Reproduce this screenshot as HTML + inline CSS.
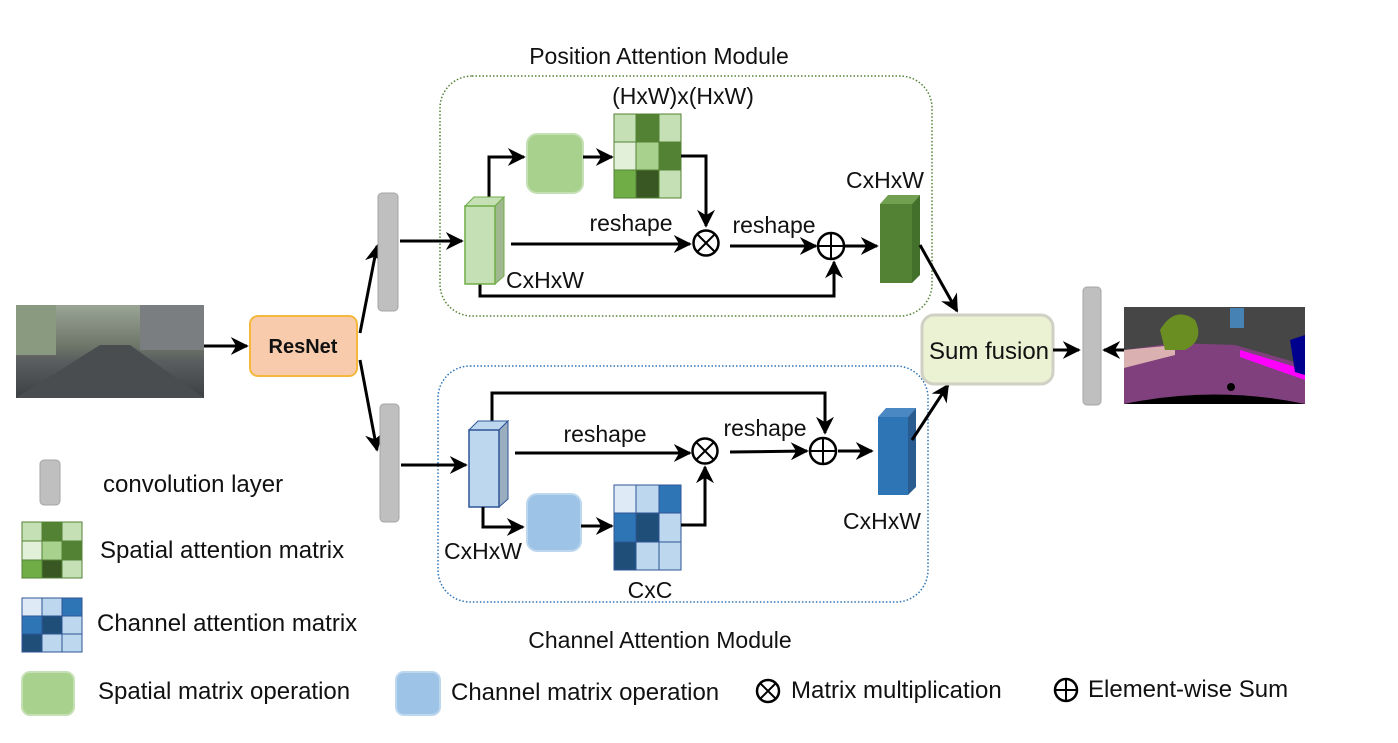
<!DOCTYPE html>
<html><head><meta charset="utf-8"><style>
body{margin:0;background:#fff;}
svg text{font-family:"Liberation Sans","DejaVu Sans",sans-serif;fill:#111;}
</style></head><body>
<svg width="1398" height="738" viewBox="0 0 1398 738" xmlns="http://www.w3.org/2000/svg">
<defs>
<marker id="a" viewBox="0 0 10 10" refX="9" refY="5" markerWidth="6" markerHeight="6" orient="auto-start-reverse"><path d="M0,0 L10,5 L0,10 L3,5 z" fill="#000"/></marker>
<linearGradient id="st" x1="0" y1="0" x2="0" y2="1"><stop offset="0" stop-color="#9aa596"/><stop offset="0.45" stop-color="#6d7468"/><stop offset="0.6" stop-color="#5a5e60"/><stop offset="1" stop-color="#3e4144"/></linearGradient>
</defs>
<rect x="440" y="76" width="492" height="240" rx="32" fill="none" stroke="#548235" stroke-width="1.5" stroke-dasharray="1.5,2"/>
<rect x="438" y="366" width="490" height="236" rx="32" fill="none" stroke="#2e75b6" stroke-width="1.5" stroke-dasharray="1.5,2"/>
<text x="659" y="64" font-size="23" text-anchor="middle">Position Attention Module</text>
<text x="660" y="648" font-size="23" text-anchor="middle">Channel Attention Module</text>

<rect x="16" y="305" width="188" height="93" fill="url(#st)"/>
<rect x="16" y="305" width="40" height="50" fill="#8a9a80"/>
<rect x="140" y="305" width="64" height="45" fill="#7a7e80"/>
<polygon points="16,398 100,345 130,345 204,398" fill="#4a4d50"/>
<line x1="204" y1="346" x2="247" y2="346" stroke="#000" stroke-width="3" marker-end="url(#a)"/>
<rect x="250" y="316" width="107" height="60" rx="8" fill="#f8cbad" stroke="#f5b83d" stroke-width="2"/>
<text x="303" y="353" font-size="20" font-weight="bold" text-anchor="middle">ResNet</text>
<line x1="360" y1="333" x2="377" y2="246" stroke="#000" stroke-width="3" marker-end="url(#a)"/>
<line x1="360" y1="360" x2="377" y2="450" stroke="#000" stroke-width="3" marker-end="url(#a)"/>
<rect x="378" y="193" width="20" height="118" rx="4" fill="#bfbfbf" stroke="#a6a6a6"/>
<rect x="380" y="404" width="19" height="118" rx="4" fill="#bfbfbf" stroke="#a6a6a6"/>
<line x1="400" y1="241" x2="462" y2="241" stroke="#000" stroke-width="3" marker-end="url(#a)"/>
<line x1="401" y1="465" x2="466" y2="465" stroke="#000" stroke-width="3" marker-end="url(#a)"/>

<polyline points="489,197 489,157 524,157" fill="none" stroke="#000" stroke-width="3" marker-end="url(#a)"/>
<rect x="527" y="134" width="56" height="59" rx="10" fill="#a9d18e" stroke="#c5e0b4" stroke-width="2"/>
<line x1="583" y1="157" x2="612" y2="157" stroke="#000" stroke-width="3" marker-end="url(#a)"/>
<g stroke="#548235" stroke-width="1">
<rect x="614" y="114" width="22" height="28" fill="#c5e0b4"/><rect x="636" y="114" width="23" height="28" fill="#548235"/><rect x="659" y="114" width="22" height="28" fill="#c5e0b4"/>
<rect x="614" y="142" width="22" height="28" fill="#e2f0d9"/><rect x="636" y="142" width="23" height="28" fill="#a9d18e"/><rect x="659" y="142" width="22" height="28" fill="#548235"/>
<rect x="614" y="170" width="22" height="28" fill="#70ad47"/><rect x="636" y="170" width="23" height="28" fill="#385723"/><rect x="659" y="170" width="22" height="28" fill="#c5e0b4"/>
</g>
<text x="683" y="104" font-size="23" text-anchor="middle">(HxW)x(HxW)</text>
<polyline points="681,156 706,156 706,226" fill="none" stroke="#000" stroke-width="3" marker-end="url(#a)"/>
<polyline points="480,284 480,296 834,296 834,262" fill="none" stroke="#000" stroke-width="3" marker-end="url(#a)"/>
<polygon points="465,206 474,197 504,197 495,206" fill="#c5e0b4" stroke="#70ad47"/>
<polygon points="495,206 504,197 504,276 495,284" fill="#a0b890" stroke="#70ad47"/>
<rect x="465" y="206" width="30" height="78" fill="#c5e0b4" stroke="#70ad47" stroke-width="1.5"/>
<text x="506" y="288" font-size="23">CxHxW</text>
<line x1="511" y1="244" x2="690" y2="244" stroke="#000" stroke-width="3" marker-end="url(#a)"/>
<text x="631" y="231" font-size="23" text-anchor="middle">reshape</text>
<circle cx="706" cy="243" r="12.5" fill="#fff" stroke="#000" stroke-width="2.5"/>
<path d="M697,234 L715,252 M715,234 L697,252" stroke="#000" stroke-width="2"/>
<text x="774" y="233" font-size="23" text-anchor="middle">reshape</text>
<line x1="730" y1="246" x2="816" y2="246" stroke="#000" stroke-width="3" marker-end="url(#a)"/>
<circle cx="831" cy="246" r="13" fill="#fff" stroke="#000" stroke-width="2.5"/>
<path d="M818,246 L844,246 M831,233 L831,259" stroke="#000" stroke-width="2"/>
<line x1="845" y1="246" x2="877" y2="246" stroke="#000" stroke-width="3" marker-end="url(#a)"/>
<polygon points="880,204 888,195 920,195 912,204" fill="#70a050"/>
<polygon points="912,204 920,195 920,275 912,283" fill="#43702a"/>
<rect x="880" y="204" width="32" height="79" fill="#548235"/>
<text x="885" y="188" font-size="23" text-anchor="middle">CxHxW</text>

<polyline points="492,430 492,393 825,393 825,433" fill="none" stroke="#000" stroke-width="3" marker-end="url(#a)"/>
<polygon points="469,430 478,421 508,421 499,430" fill="#bdd7ee" stroke="#2f5597"/>
<polygon points="499,430 508,421 508,499 499,507" fill="#9aaebf" stroke="#2f5597"/>
<rect x="469" y="430" width="30" height="77" fill="#bdd7ee" stroke="#2f5597" stroke-width="1.5"/>
<line x1="515" y1="453" x2="690" y2="453" stroke="#000" stroke-width="3" marker-end="url(#a)"/>
<text x="605" y="442" font-size="23" text-anchor="middle">reshape</text>
<circle cx="705" cy="451" r="12.5" fill="#fff" stroke="#000" stroke-width="2.5"/>
<path d="M696,442 L714,460 M714,442 L696,460" stroke="#000" stroke-width="2"/>
<text x="765" y="436" font-size="23" text-anchor="middle">reshape</text>
<line x1="730" y1="452" x2="807" y2="451" stroke="#000" stroke-width="3" marker-end="url(#a)"/>
<circle cx="823" cy="451" r="13" fill="#fff" stroke="#000" stroke-width="2.5"/>
<path d="M810,451 L836,451 M823,438 L823,464" stroke="#000" stroke-width="2"/>
<line x1="838" y1="451" x2="872" y2="451" stroke="#000" stroke-width="3" marker-end="url(#a)"/>
<polygon points="878,417 886,408 916,408 908,417" fill="#4a88c4"/>
<polygon points="908,417 916,408 916,487 908,495" fill="#2a5c90"/>
<rect x="878" y="417" width="30" height="78" fill="#2e75b6"/>
<text x="882" y="529" font-size="23" text-anchor="middle">CxHxW</text>
<polyline points="483,507 483,527 523,527" fill="none" stroke="#000" stroke-width="3" marker-end="url(#a)"/>
<text x="483" y="559" font-size="23" text-anchor="middle">CxHxW</text>
<rect x="527" y="494" width="54" height="57" rx="10" fill="#9dc3e6" stroke="#bdd7ee" stroke-width="2"/>
<line x1="581" y1="526" x2="612" y2="526" stroke="#000" stroke-width="3" marker-end="url(#a)"/>
<g stroke="#2f5597" stroke-width="1">
<rect x="614" y="485" width="22" height="28" fill="#deebf7"/><rect x="636" y="485" width="23" height="28" fill="#bdd7ee"/><rect x="659" y="485" width="22" height="28" fill="#2e75b6"/>
<rect x="614" y="513" width="22" height="29" fill="#2e75b6"/><rect x="636" y="513" width="23" height="29" fill="#1f4e79"/><rect x="659" y="513" width="22" height="29" fill="#bdd7ee"/>
<rect x="614" y="542" width="22" height="28" fill="#1f4e79"/><rect x="636" y="542" width="23" height="28" fill="#bdd7ee"/><rect x="659" y="542" width="22" height="28" fill="#bdd7ee"/>
</g>
<polyline points="681,525 705,525 705,467" fill="none" stroke="#000" stroke-width="3" marker-end="url(#a)"/>
<text x="650" y="598" font-size="23" text-anchor="middle">CxC</text>

<line x1="920" y1="245" x2="957" y2="311" stroke="#000" stroke-width="3" marker-end="url(#a)"/>
<line x1="912" y1="440" x2="948" y2="385" stroke="#000" stroke-width="3" marker-end="url(#a)"/>
<rect x="922" y="315" width="131" height="69" rx="12" fill="#ebf1d3" stroke="#d0d0c4" stroke-width="3"/>
<text x="989" y="359" font-size="24" text-anchor="middle">Sum fusion</text>
<line x1="1053" y1="350" x2="1079" y2="350" stroke="#000" stroke-width="3" marker-end="url(#a)"/>
<rect x="1083" y="287" width="18" height="118" rx="4" fill="#bfbfbf" stroke="#a6a6a6"/>
<line x1="1125" y1="350" x2="1104" y2="350" stroke="#000" stroke-width="3" marker-end="url(#a)"/>
<rect x="1124" y="307" width="181" height="97" fill="#464646"/>
<path d="M1124,350 L1175,343 L1235,345 L1305,365 L1305,404 L1124,404 Z" fill="#80407e"/>
<path d="M1124,350 L1175,345 L1175,355 L1124,368 Z" fill="#dbb0b0"/>
<path d="M1240,350 L1305,370 L1305,380 L1240,357 Z" fill="#ff00ff"/>
<path d="M1160,330 Q1175,305 1195,320 Q1205,340 1185,350 L1165,350 Z" fill="#6b8e23"/>
<rect x="1230" y="308" width="14" height="20" fill="#4682b4"/>
<path d="M1290,340 L1305,335 L1305,375 L1295,372 Z" fill="#00008e"/>
<path d="M1124,404 Q1215,385 1305,404 Z" fill="#000"/>
<circle cx="1231" cy="387" r="4" fill="#000"/>

<rect x="40" y="460" width="20" height="45" rx="4" fill="#bfbfbf" stroke="#a6a6a6"/>
<text x="103" y="492" font-size="24">convolution layer</text>
<g stroke="#548235" stroke-width="1">
<rect x="22" y="522" width="20" height="19" fill="#c5e0b4"/><rect x="42" y="522" width="20" height="19" fill="#548235"/><rect x="62" y="522" width="20" height="19" fill="#c5e0b4"/>
<rect x="22" y="541" width="20" height="19" fill="#e2f0d9"/><rect x="42" y="541" width="20" height="19" fill="#a9d18e"/><rect x="62" y="541" width="20" height="19" fill="#548235"/>
<rect x="22" y="560" width="20" height="18" fill="#70ad47"/><rect x="42" y="560" width="20" height="18" fill="#385723"/><rect x="62" y="560" width="20" height="18" fill="#c5e0b4"/>
</g>
<text x="100" y="558" font-size="24">Spatial attention matrix</text>
<g stroke="#2f5597" stroke-width="1">
<rect x="22" y="598" width="20" height="18" fill="#deebf7"/><rect x="42" y="598" width="20" height="18" fill="#bdd7ee"/><rect x="62" y="598" width="20" height="18" fill="#2e75b6"/>
<rect x="22" y="616" width="20" height="18" fill="#2e75b6"/><rect x="42" y="616" width="20" height="18" fill="#1f4e79"/><rect x="62" y="616" width="20" height="18" fill="#bdd7ee"/>
<rect x="22" y="634" width="20" height="18" fill="#1f4e79"/><rect x="42" y="634" width="20" height="18" fill="#bdd7ee"/><rect x="62" y="634" width="20" height="18" fill="#bdd7ee"/>
</g>
<text x="97" y="631" font-size="24">Channel attention matrix</text>
<rect x="22" y="672" width="52" height="43" rx="8" fill="#a9d18e" stroke="#c5e0b4" stroke-width="2"/>
<text x="98" y="699" font-size="24">Spatial matrix operation</text>
<rect x="396" y="672" width="44" height="43" rx="8" fill="#9dc3e6" stroke="#bdd7ee" stroke-width="2"/>
<text x="451" y="700" font-size="24">Channel matrix operation</text>
<circle cx="768" cy="691" r="11" fill="#fff" stroke="#000" stroke-width="2.5"/>
<path d="M760,683 L776,699 M776,683 L760,699" stroke="#000" stroke-width="2"/>
<text x="791" y="698" font-size="24">Matrix multiplication</text>
<circle cx="1066" cy="690" r="11" fill="#fff" stroke="#000" stroke-width="2.5"/>
<path d="M1055,690 L1077,690 M1066,679 L1066,701" stroke="#000" stroke-width="2"/>
<text x="1088" y="697" font-size="24">Element-wise Sum</text>
</svg>
</body></html>
